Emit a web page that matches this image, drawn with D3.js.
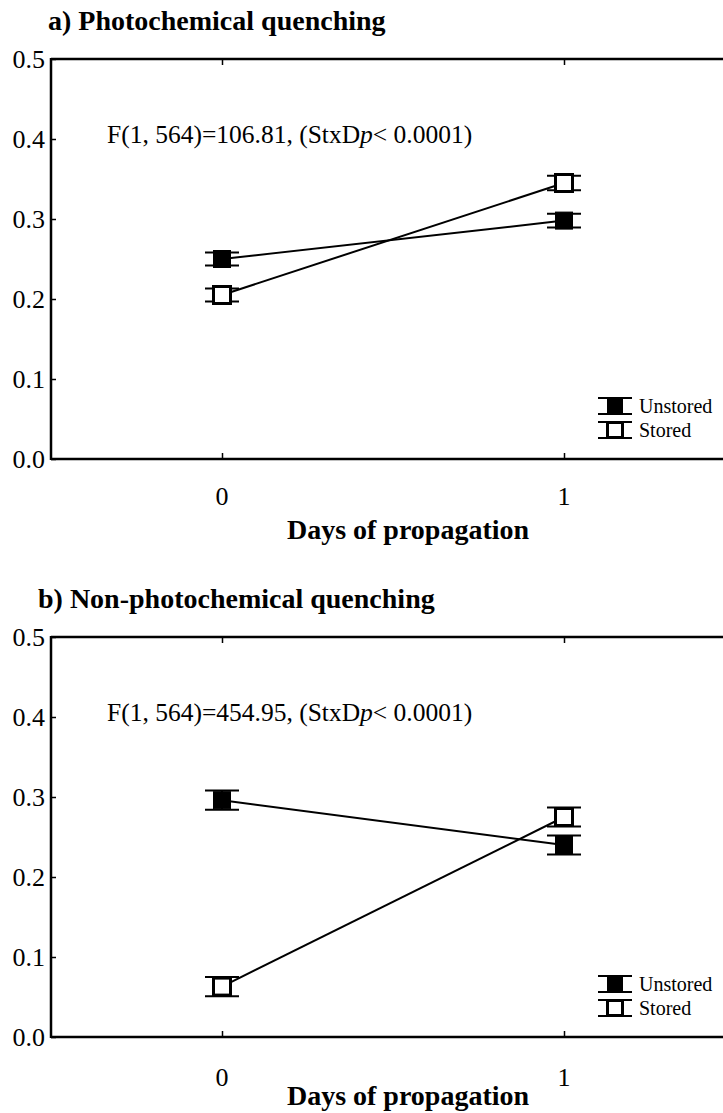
<!DOCTYPE html>
<html><head><meta charset="utf-8">
<script src="https://cdn.jsdelivr.net/npm/d3@7"></script>
<style>body{margin:0;background:#fff}svg{display:block}text{font-family:"Liberation Serif","Times New Roman",serif;fill:#000}</style>
</head><body>
<svg id="c" width="723" height="1113"></svg>
<script>
const days = [0, 1];
const yTicks = [0.0, 0.1, 0.2, 0.3, 0.4, 0.5];
const seriesNames = ["Unstored", "Stored"];
const titles = ["a) Photochemical quenching", "b) Non-photochemical quenching"];
const statsPrefix = ["F(1, 564)=106.81, (StxD", "F(1, 564)=454.95, (StxD"];
const xLabel = "Days of propagation";
// panel a
const pqUnstored = [0.250, 0.298];
const pqUnstoredSE = [0.008, 0.0085];
const pqStored = [0.205, 0.345];
const pqStoredSE = [0.008, 0.009];
// panel b
const npqUnstored = [0.296, 0.240];
const npqUnstoredSE = [0.012, 0.012];
const npqStored = [0.063, 0.275];
const npqStoredSE = [0.012, 0.012];

const panels = [
  {series:[{name:"Unstored", v:pqUnstored, se:pqUnstoredSE, fill:"#000"},{name:"Stored", v:pqStored, se:pqStoredSE, fill:"#fff"}]},
  {series:[{name:"Unstored", v:npqUnstored, se:npqUnstoredSE, fill:"#000"},{name:"Stored", v:npqStored, se:npqStoredSE, fill:"#fff"}]}
];

const svg = d3.select("#c");
const offsets = [0, 578];
const L = 51, R = 735, TOP = 59, BOT = 459;
const x = d3.scaleLinear().domain([-0.5, 1.5]).range([L, R]);

function marker(g, cx, cy, fill, size) {
  g.append("rect").attr("x", cx - size/2).attr("y", cy - size/2)
    .attr("width", size).attr("height", size)
    .attr("fill", fill).attr("stroke", "#000").attr("stroke-width", fill === "#fff" ? 3 : 1);
}

panels.forEach((p, i) => {
  const g = svg.append("g").attr("transform", `translate(0,${offsets[i]})`);
  const y = d3.scaleLinear().domain([0, 0.5]).range([BOT, TOP]);

  g.append("text").attr("x", i ? 38 : 48).attr("y", 30).attr("font-size", 28).attr("font-weight", "bold").text(titles[i]);

  // frame
  g.append("line").attr("x1", L).attr("x2", R).attr("y1", y(0.5)).attr("y2", y(0.5)).attr("stroke", "#000").attr("stroke-width", 2.5);
  g.append("line").attr("x1", L).attr("x2", R).attr("y1", y(0)).attr("y2", y(0)).attr("stroke", "#000").attr("stroke-width", 2.5);

  const yAxis = d3.axisRight(y).tickValues(yTicks).tickSize(5).tickFormat("");
  const ya = g.append("g").attr("transform", `translate(${L},0)`).call(yAxis);
  ya.select(".domain").attr("stroke-width", 2.5).attr("d", `M0,${y(0)+1}V${y(0.5)-1}`);
  ya.selectAll(".tick line").attr("stroke-width", 1.5);
  g.selectAll(".ylab").data(yTicks).join("text").attr("x", L - 6).attr("y", d => y(d) + 9)
    .attr("text-anchor", "end").attr("font-size", 26).text(d3.format(".1f"));

  const xb = g.append("g").attr("transform", `translate(0,${y(0)})`).call(d3.axisTop(x).tickValues(days).tickSize(6).tickFormat(""));
  xb.select(".domain").remove(); xb.selectAll(".tick line").attr("stroke-width", 1.5);
  const xt = g.append("g").attr("transform", `translate(0,${y(0.5)})`).call(d3.axisBottom(x).tickValues(days).tickSize(6).tickFormat(""));
  xt.select(".domain").remove(); xt.selectAll(".tick line").attr("stroke-width", 1.5);
  g.selectAll(".xlab").data(days).join("text").attr("x", d => x(d)).attr("y", y(0) + (i ? 49 : 46))
    .attr("text-anchor", "middle").attr("font-size", 26).text(d => d);
  g.append("text").attr("x", 408).attr("y", y(0) + (i ? 68 : 80)).attr("text-anchor", "middle")
    .attr("font-size", 28).attr("font-weight", "bold").text(xLabel);

  const st = g.append("text").attr("x", 107).attr("y", 143).attr("font-size", 25.5);
  st.append("tspan").text(statsPrefix[i]);
  st.append("tspan").attr("font-style", "italic").text("p");
  st.append("tspan").text("< 0.0001)");

  const line = d3.line().x((d, j) => x(days[j])).y(d => y(d));
  p.series.forEach(s => {
    g.append("path").attr("d", line(s.v)).attr("fill", "none").attr("stroke", "#000").attr("stroke-width", 2);
  });
  p.series.forEach(s => {
    days.forEach((d, j) => {
      const cx = x(d);
      [s.v[j] - s.se[j], s.v[j] + s.se[j]].forEach(e => {
        g.append("line").attr("x1", cx - 17).attr("x2", cx + 17).attr("y1", y(e)).attr("y2", y(e)).attr("stroke", "#000").attr("stroke-width", 2);
      });
      g.append("line").attr("x1", cx).attr("x2", cx).attr("y1", y(s.v[j]-s.se[j])).attr("y2", y(s.v[j]+s.se[j])).attr("stroke", "#000").attr("stroke-width", 2);
      marker(g, cx, y(s.v[j]), s.fill, 17);
    });
  });

  // legend
  seriesNames.forEach((n, k) => {
    const cy = 406 + k * 24, cx = 615;
    [cy - 8, cy + 8].forEach(e => g.append("line").attr("x1", cx - 17).attr("x2", cx + 17).attr("y1", e).attr("y2", e).attr("stroke", "#000").attr("stroke-width", 2));
    marker(g, cx, cy, p.series[k].fill, 15);
    g.append("text").attr("x", 639).attr("y", cy + 7).attr("font-size", 20).text(n);
  });
});
</script>
</body></html>
